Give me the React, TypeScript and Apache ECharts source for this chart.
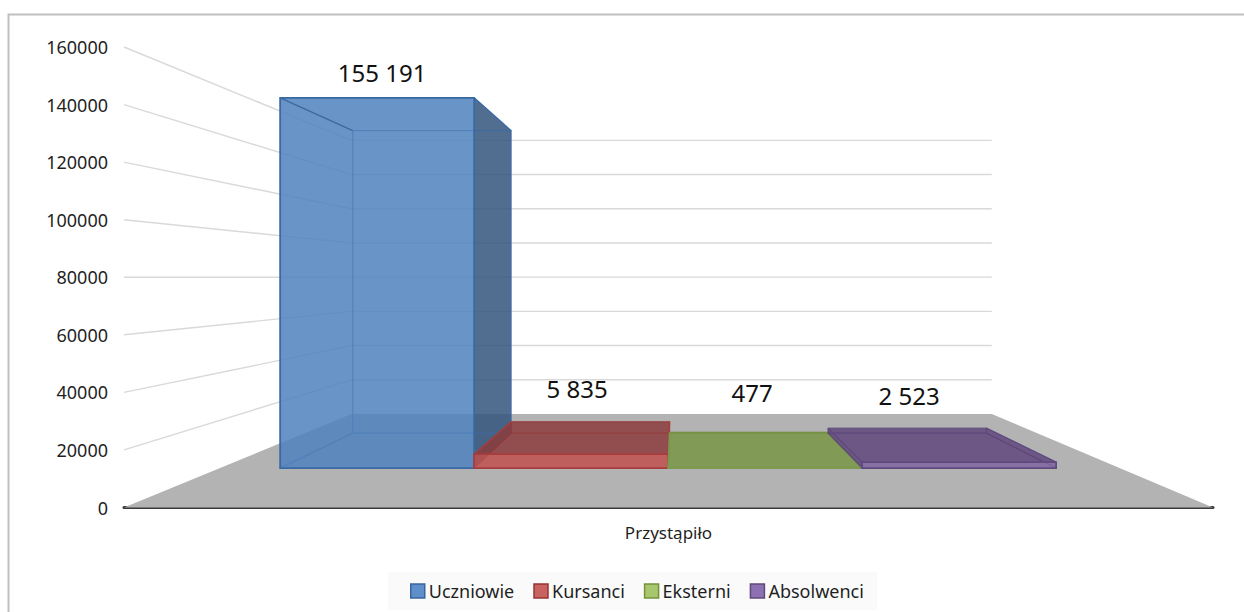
import React, { useEffect, useRef } from "react";
import * as echarts from "echarts";

const categories = ["Przystąpiło"];
const seriesNames = ["Uczniowie", "Kursanci", "Eksterni", "Absolwenci"];
const seriesValues = [155191, 5835, 477, 2523];
const tickValues = [0, 20000, 40000, 60000, 80000, 100000, 120000, 140000, 160000];

const FONT = '"Noto Sans", sans-serif';
const TEXT = "#1f1f1f";
const VP = [676, 277];
const S_WALL_X = 0.588;
const S_WALL_Y = 0.594;
const S_FRONT = 0.829;
const S_BACK = 0.677;
const BAR_W = 234;
const BAR_SHIFT = -2;

const styles = [
  { front: "rgba(79,129,189,0.85)", side: "rgba(50,85,125,0.85)", top: "rgba(50,85,125,0.85)", edge: "#3a69a3", inner: "rgba(60,105,165,0.75)", icon: "#5f8fca", iconB: "#3a659c" },
  { front: "rgba(192,80,77,0.85)", side: "rgba(140,60,60,0.85)", top: "rgba(140,60,60,0.85)", edge: "#a83d3d", inner: "rgba(150,55,55,0.7)", icon: "#c96362", iconB: "#943634" },
  { front: "rgba(155,187,89,0.85)", side: "rgba(120,150,70,0.85)", top: "rgba(120,150,70,0.85)", edge: "#7d9a50", inner: "rgba(110,140,60,0.6)", icon: "#a8c66b", iconB: "#76923c" },
  { front: "rgba(128,100,162,0.85)", side: "rgba(95,70,125,0.85)", top: "rgba(95,70,125,0.85)", edge: "#60497f", inner: "rgba(90,65,120,0.7)", icon: "#8d71b3", iconB: "#5f497a" },
];
const labelOffsets = [
  [5, -25],
  [6, -66],
  [-13, -74],
  [-50, -67],
];

const proj = (u: number, y: number, s: number) => [VP[0] + (u - VP[0]) * s, VP[1] + (y - VP[1]) * s];
const wall = (u: number, y: number) => [VP[0] + (u - VP[0]) * S_WALL_X, VP[1] + (y - VP[1]) * S_WALL_Y];
const fmt = (v: number) => String(v).replace(/\B(?=(\d{3})+$)/g, " ");

function renderFloor(params: any, api: any) {
  const c = params.coordSys;
  const y0 = api.coord([0, 0])[1];
  const xl = c.x;
  const xr = c.x + c.width;
  return {
    type: "polygon",
    shape: { points: [[xl, y0], [xr, y0], wall(xr, y0), wall(xl, y0)] },
    style: { fill: "#b3b3b3" },
  };
}

function renderGrid(params: any, api: any) {
  const c = params.coordSys;
  const v = api.value(1);
  if (v === 0) return { type: "group", children: [] };
  const y = api.coord([0, v])[1];
  const xl = c.x;
  const xr = c.x + c.width;
  return {
    type: "polyline",
    shape: { points: [[xl, y], wall(xl, y), wall(xr, y)] },
    style: { stroke: "#d9d9d9", fill: "none", lineWidth: 1.4 },
  };
}

const makeBar = (i: number) => (params: any, api: any) => {
  const st = styles[i];
  const v = api.value(1);
  const center = api.coord([0, 0])[0];
  const y0 = api.coord([0, 0])[1];
  const y1 = api.coord([0, v])[1];
  const u0 = center + BAR_SHIFT + (i - 2) * BAR_W;
  const u1 = u0 + BAR_W;
  const fbl = proj(u0, y0, S_FRONT), fbr = proj(u1, y0, S_FRONT);
  const ftl = proj(u0, y1, S_FRONT), ftr = proj(u1, y1, S_FRONT);
  const bbl = proj(u0, y0, S_BACK), bbr = proj(u1, y0, S_BACK);
  const btl = proj(u0, y1, S_BACK), btr = proj(u1, y1, S_BACK);
  const poly = (points: number[][], fill: string, stroke?: string) => ({
    type: "polygon",
    shape: { points },
    style: { fill, stroke: stroke || "none", lineWidth: stroke ? 1.8 : 0 },
  });
  const line = (points: number[][], stroke: string, lineWidth: number) => ({
    type: "polyline",
    shape: { points },
    style: { stroke, lineWidth, fill: "none" },
  });
  const children: any[] = [];
  if (u1 < VP[0]) children.push(poly([ftr, btr, bbr, fbr], st.side));
  if (u0 > VP[0]) children.push(poly([ftl, btl, bbl, fbl], st.side));
  if (y1 > VP[1]) children.push(poly([ftl, ftr, btr, btl], st.top));
  // hidden edges, seen through the glass
  children.push(line([btl, bbl, bbr, btr, btl], st.inner, 1.3));
  children.push(line([fbl, bbl], st.inner, 1.3));
  children.push(line([fbr, bbr], st.inner, 1.3));
  children.push(poly([ftl, ftr, fbr, fbl], st.front, st.edge));
  children.push(line([ftl, btl], st.edge, 1.4));
  children.push(line([ftr, btr], st.edge, 1.4));
  const off = labelOffsets[i];
  children.push({
    type: "text",
    style: {
      text: fmt(v),
      x: (ftl[0] + ftr[0]) / 2 + off[0],
      y: ftl[1] + off[1],
      align: "center",
      verticalAlign: "middle",
      fill: "#111111",
      font: `24px ${FONT}`,
    },
  });
  return { type: "group", children };
};

export default function App() {
  const ref = useRef<HTMLDivElement>(null);
  useEffect(() => {
    const chart = echarts.init(ref.current!, undefined, { renderer: "svg" });
    chart.setOption({
      animation: false,
      backgroundColor: "#ffffff",
      grid: { left: 124, right: 31, top: 47, height: 460.5 },
      xAxis: {
        type: "category",
        data: categories,
        axisTick: { show: false },
        axisLine: { show: true, onZero: false, lineStyle: { color: "#3a3a3a", width: 3 } },
        axisLabel: { color: TEXT, fontFamily: FONT, fontSize: 17, margin: 16 },
      },
      yAxis: {
        type: "value",
        min: 0,
        max: 160000,
        interval: 20000,
        axisLine: { show: false },
        axisTick: { show: false },
        splitLine: { show: false },
        axisLabel: { color: TEXT, fontFamily: FONT, fontSize: 18, margin: 16, formatter: (v: number) => String(v) },
      },
      legend: {
        left: 388,
        top: 572,
        padding: [10, 13, 10, 22],
        backgroundColor: "#fafafa",
        itemWidth: 14,
        itemHeight: 14,
        itemGap: 19,
        selectedMode: false,
        textStyle: { color: TEXT, fontFamily: FONT, fontSize: 18, padding: [0, 0, 0, -1] },
        data: seriesNames.map((name, i) => ({
          name,
          icon: "rect",
          itemStyle: { color: styles[i].icon, borderColor: styles[i].iconB, borderWidth: 1.5 },
        })),
      },
      graphic: [
        {
          type: "polyline",
          silent: true,
          z: 100,
          shape: { points: [[8.5, 612], [8.5, 14.5], [1244, 14.5]] },
          style: { stroke: "#bfbfbf", lineWidth: 2, fill: "none" },
        },
      ],
      series: [
        { type: "custom", renderItem: renderFloor, data: [[0, 0]], clip: false, silent: true },
        {
          type: "custom",
          renderItem: renderGrid,
          data: tickValues.map((v) => [0, v]),
          clip: false,
          silent: true,
        },
        ...seriesNames.map((name, i) => ({
          name,
          type: "custom",
          renderItem: makeBar(i),
          data: [[0, seriesValues[i]]],
          clip: false,
          silent: true,
        })),
      ],
    });
    return () => chart.dispose();
  }, []);
  return <div ref={ref} style={{ position: "fixed", left: 0, top: 0, width: 1244, height: 612 }} />;
}
